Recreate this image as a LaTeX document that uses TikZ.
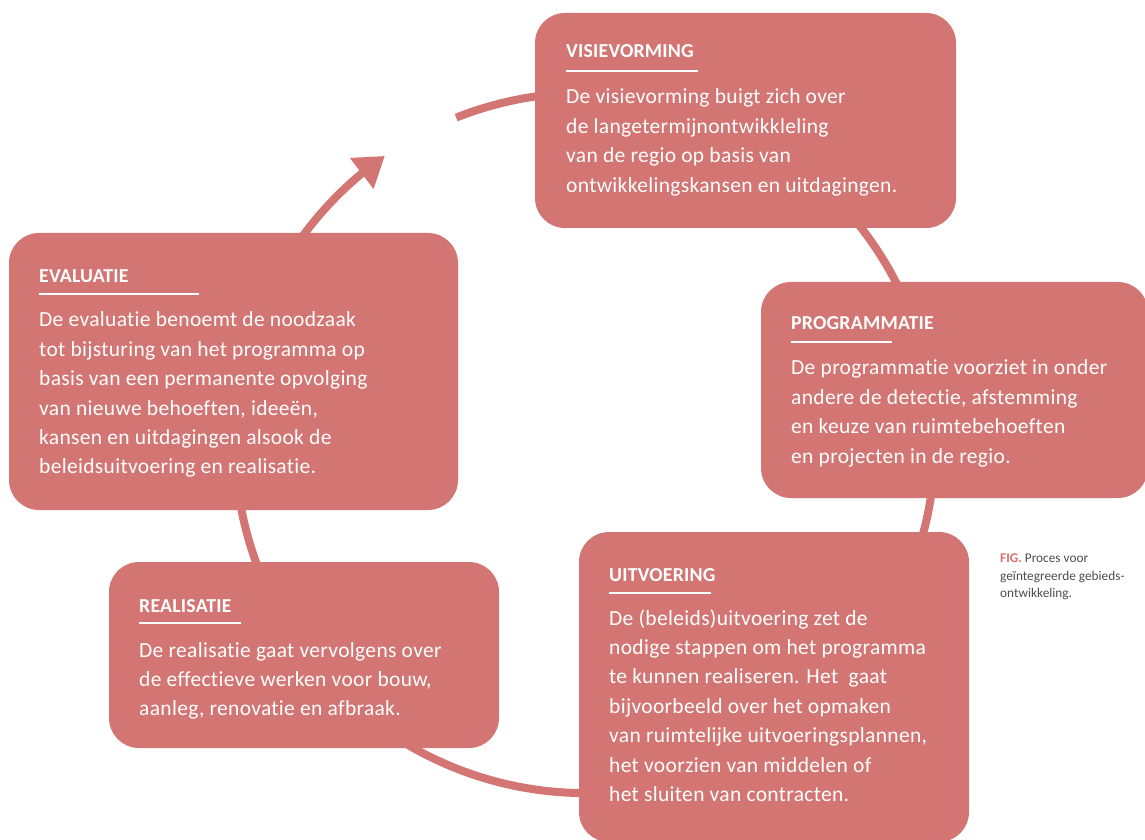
\documentclass[tikz,border=0pt]{standalone}
\usepackage{fontspec}
\setmainfont{Carlito}[Ligatures=NoCommon]
\usetikzlibrary{arrows.meta,bending}
\definecolor{boxc}{HTML}{D27573}
\definecolor{figc}{HTML}{D9706F}
\definecolor{capc}{HTML}{4D4D4D}
\tikzset{
  box/.style={fill=boxc, draw=none, rounded corners=30pt, inner sep=0pt},
  ring/.style={draw=boxc, line width=8pt},
  head/.style={anchor=base west, inner sep=0pt, text=white, font=\fontsize{19.8}{22}\selectfont\bfseries\addfontfeatures{LetterSpace=1}},
  body/.style={anchor=base west, inner sep=0pt, text=white},
  uline/.style={draw=white, line width=1.6pt},
  captext/.style={anchor=base west, inner sep=0pt, text=capc}
}
\newcommand{\bodytext}[1]{\parbox[t]{430pt}{\fontsize{21.5}{29.4}\selectfont\addfontfeatures{LetterSpace=1.5}\raggedright #1}}
\begin{document}
\begin{tikzpicture}[x=1pt,y=1pt]
\useasboundingbox (0,0) rectangle (1145,839);
\clip (0,0) rectangle (1145,839);
% ring
\coordinate (ringstart) at (456.2,721.4);
\draw[ring, -{Triangle[width=37pt,length=29pt,flex]}] (ringstart) arc[start angle=111.6, end angle=-235.1, radius=350pt];
% boxes
\node[box, minimum width=421pt, minimum height=215pt] (visie) at (745.5,718.5) {};
\node[box, minimum width=387pt, minimum height=216pt] (prog) at (954.5,449) {};
\node[box, minimum width=449pt, minimum height=277pt] (eval) at (233.5,467.5) {};
\node[box, minimum width=390pt, minimum height=186pt] (real) at (304,184) {};
\node[box, minimum width=390pt, minimum height=310pt] (uitv) at (774,152) {};
% VISIEVORMING
\node[head] (visieh) at (566,781) {VISIEVORMING};
\draw[uline] (566,768) -- (698,768);
\node[body] (visieb) at (566,735) {\bodytext{De visievorming buigt zich over\\de langetermijnontwikkleling\\van de regio op basis van\\ontwikkelingskansen en uitdagingen.}};
% PROGRAMMATIE
\node[head] (progh) at (791,509) {PROGRAMMATIE};
\draw[uline] (791,497) -- (892,497);
\node[body] (progb) at (791,464) {\bodytext{De programmatie voorziet in onder\\andere de detectie, afstemming\\en keuze van ruimtebehoeften\\en projecten in de regio.}};
% EVALUATIE
\node[head] (evalh) at (39,556) {EVALUATIE};
\draw[uline] (39,545) -- (199,545);
\node[body] (evalb) at (39,512) {\bodytext{De evaluatie benoemt de noodzaak\\tot bijsturing van het programma op\\basis van een permanente opvolging\\van nieuwe behoeften, ideeën,\\kansen en uitdagingen alsook de\\beleidsuitvoering en realisatie.}};
% REALISATIE
\node[head] (realh) at (139,227) {REALISATIE};
\draw[uline] (139,216) -- (241,216);
\node[body] (realb) at (139,182) {\bodytext{De realisatie gaat vervolgens over\\de effectieve werken voor bouw,\\aanleg, renovatie en afbraak.}};
% UITVOERING
\node[head] (uitvh) at (609,258) {UITVOERING};
\draw[uline] (609,246) -- (711,246);
\node[body] (uitvb) at (609,214) {\bodytext{De (beleids)uitvoering zet de\\nodige stappen om het programma\\te kunnen realiseren. Het~~gaat\\bijvoorbeeld over het opmaken\\van ruimtelijke uitvoeringsplannen,\\het voorzien van middelen of\\het sluiten van contracten.}};
% caption
\node[captext] (caption) at (1000,285) {\parbox[t]{145pt}{\fontsize{13.3}{17.3}\selectfont\raggedright{\color{figc}\bfseries FIG.} Proces voor\\geïntegreerde gebieds-\\ontwikkeling.}};
\end{tikzpicture}
\end{document}
